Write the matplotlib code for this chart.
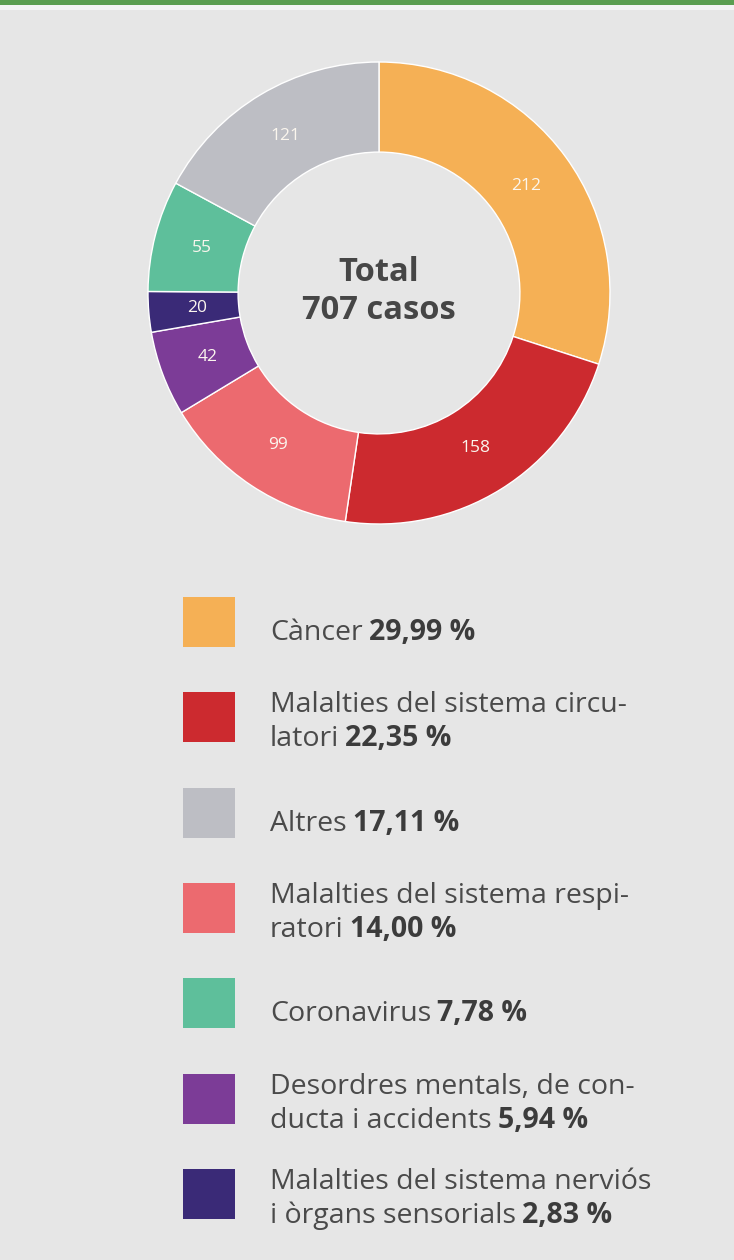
import numpy as np
import matplotlib
matplotlib.use("Agg")
import matplotlib.pyplot as plt
from matplotlib.patches import Rectangle

# data
categories = ["Càncer", "Malalties del sistema circulatori", "Malalties del sistema respiratori",
              "Desordres mentals, de conducta i accidents", "Malalties del sistema nerviós i òrgans sensorials",
              "Coronavirus", "Altres"]
values = [212, 158, 99, 42, 20, 55, 121]
colors = ["#f5b055", "#cc2a2f", "#ec6a6f", "#7c3c97", "#3a2a77", "#5ebf9b", "#bdbec4"]

# legend order and the wrapped text as in the original
legend_order = [0, 1, 6, 2, 5, 3, 4]
legend_lines = [
    ["Càncer"],
    ["Malalties del sistema circu-", "latori"],
    ["Altres"],
    ["Malalties del sistema respi-", "ratori"],
    ["Coronavirus"],
    ["Desordres mentals, de con-", "ducta i accidents"],
    ["Malalties del sistema nerviós", "i òrgans sensorials"],
]

FONT = "Open Sans"
TXT = "#4a4a4a"
BG = "#e6e6e6"

W, H = 734, 1260
fig = plt.figure(figsize=(W / 100, H / 100), dpi=100, facecolor=BG)

# overlay axes in pixel coords (y down)
ov = fig.add_axes([0, 0, 1, 1], zorder=0)
ov.set_xlim(0, W)
ov.set_ylim(H, 0)
ov.axis("off")
ov.add_patch(Rectangle((0, 0), W, 4.5, color="#5b9e51", lw=0))
ov.add_patch(Rectangle((0, 4.5), W, 5.5, color="#f4f4f4", lw=0))

# donut
cx, cy = 379, 293
rad = 231
ax = fig.add_axes([(cx - rad) / W, (H - cy - rad) / H, 2 * rad / W, 2 * rad / H], zorder=1)
wedges, _ = ax.pie(values, colors=colors, startangle=90, counterclock=False, radius=1,
                   wedgeprops=dict(width=0.39, edgecolor="white", linewidth=1.0))
ax.set_aspect("auto")
ax.set_xlim(-1, 1)
ax.set_ylim(-1, 1)
ax.axis("off")

r_lab = 0.79
for w, v in zip(wedges, values):
    ang = np.deg2rad((w.theta1 + w.theta2) / 2)
    ax.text(r_lab * np.cos(ang), r_lab * np.sin(ang), str(v), ha="center", va="center",
            color="#fbf6ee", fontsize=12.5, family=FONT)

ov.text(cx, 281, "Total", ha="center", va="baseline", fontsize=23.5, fontweight="bold",
        color="#464646", family=FONT, zorder=3)
ov.text(cx, 319, "707 casos", ha="center", va="baseline", fontsize=23.5, fontweight="bold",
        color="#464646", family=FONT, zorder=3)

# legend
total = sum(values)
y0, step = 622, 95.3
fig.canvas.draw()
renderer = fig.canvas.get_renderer()
for row, idx in enumerate(legend_order):
    yc = y0 + row * step
    ov.add_patch(Rectangle((183, yc - 25), 52, 50, color=colors[idx], lw=0))
    lines = legend_lines[row]
    if len(lines) == 1:
        bases = [yc + 18]
    else:
        bases = [yc - 5, yc + 29]
    last = None
    for ln, b in zip(lines, bases):
        last = ov.text(270, b, ln, ha="left", va="baseline", fontsize=20.5, color=TXT, family=FONT)
    bb = last.get_window_extent(renderer=renderer)
    pct = f"{values[idx] / total * 100:.2f}".replace(".", ",") + " %"
    ov.text(bb.x1 + 6, bases[-1], pct, ha="left", va="baseline", fontsize=20.5, fontweight="bold",
            color="#3c3c3c", family=FONT)

fig.savefig("out.png", dpi=100, facecolor=BG)
